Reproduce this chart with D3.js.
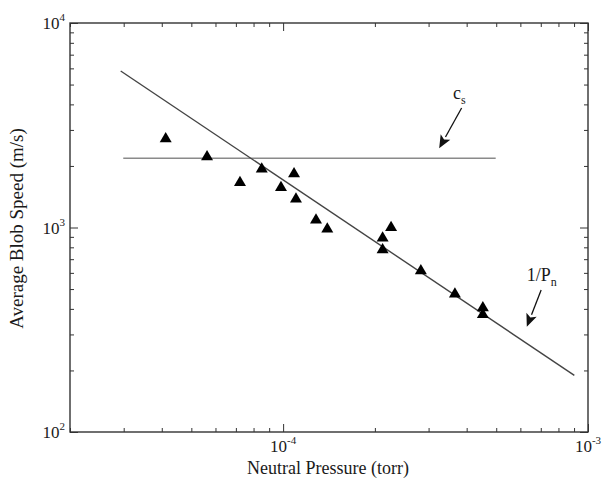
<!DOCTYPE html>
<html>
<head>
<meta charset="utf-8">
<script src="https://cdn.jsdelivr.net/npm/d3@7"></script>
<style>
  html, body { margin: 0; padding: 0; background: #fff; }
  svg { display: block; }
  text { font-family: "Liberation Serif", "DejaVu Serif", serif; fill: #1a1a1a; }
</style>
</head>
<body>
<div id="chart"></div>
<script>
// ---- data ----
const pressure = [4.12e-5, 5.63e-5, 7.22e-5, 8.51e-5, 9.84e-5, 1.086e-4, 1.102e-4, 1.282e-4, 1.396e-4,
                  2.26e-4, 2.12e-4, 2.12e-4, 2.83e-4, 3.66e-4, 4.52e-4, 4.52e-4];
const speed    = [2740, 2238, 1675, 1948, 1583, 1847, 1390, 1097, 991,
                  1009, 896, 785, 620, 477, 408, 378];
// 1/Pn fit line (v = K / P)
const fitK = 0.1708;
const fitRange = [2.933e-5, 9.02e-4];
// sound speed line
const csValue = 2180;
const csRange = [2.99e-5, 4.98e-4];
// ticks
const xMajor = [1e-4, 1e-3];
const xMajorExp = ["-4", "-3"];
const xMinor = [2e-5,3e-5,4e-5,5e-5,6e-5,7e-5,8e-5,9e-5,2e-4,3e-4,4e-4,5e-4,6e-4,7e-4,8e-4,9e-4];
const yMajor = [1e2, 1e3, 1e4];
const yMajorExp = ["2", "3", "4"];
const yMinor = [200,300,400,500,600,700,800,900,2000,3000,4000,5000,6000,7000,8000,9000];
const xDomain = [2e-5, 1e-3];
const yDomain = [1e2, 1e4];
// annotations (in data units): label anchor, arrow tail, arrow tip
const annCs  = { label: "c", sub: "s", at: [3.61e-4, 4250], from: [3.85e-4, 3841], to: [3.25e-4, 2439] };
const annFit = { label: "1/P", sub: "n", at: [6.30e-4, 548], from: [7.02e-4, 495], to: [6.30e-4, 327] };

// ---- layout ----
const W = 608, H = 490;
const m = { left: 70, top: 23, right: 20, bottom: 58 };
const iw = W - m.left - m.right, ih = H - m.top - m.bottom;

const svg = d3.select("#chart").append("svg").attr("width", W).attr("height", H);
svg.append("rect").attr("width", W).attr("height", H).attr("fill", "#fff");
const g = svg.append("g").attr("transform", `translate(${m.left},${m.top})`);

const x = d3.scaleLog().domain(xDomain).range([0, iw]);
const y = d3.scaleLog().domain(yDomain).range([ih, 0]);

const axisColor = "#333";
function styleAxis(sel) {
  sel.select(".domain").remove();
  sel.selectAll(".tick line").attr("stroke", axisColor).attr("stroke-width", 1);
  sel.selectAll(".tick text").remove();
}
// inward ticks on all four sides
g.append("g").attr("transform", `translate(0,${ih})`).call(d3.axisBottom(x).tickValues(xMajor).tickSize(-8)).call(styleAxis);
g.append("g").attr("transform", `translate(0,${ih})`).call(d3.axisBottom(x).tickValues(xMinor).tickSize(-4)).call(styleAxis);
g.append("g").call(d3.axisTop(x).tickValues(xMajor).tickSize(-8)).call(styleAxis);
g.append("g").call(d3.axisTop(x).tickValues(xMinor).tickSize(-4)).call(styleAxis);
g.append("g").call(d3.axisLeft(y).tickValues(yMajor).tickSize(-8)).call(styleAxis);
g.append("g").call(d3.axisLeft(y).tickValues(yMinor).tickSize(-4)).call(styleAxis);
g.append("g").attr("transform", `translate(${iw},0)`).call(d3.axisRight(y).tickValues(yMajor).tickSize(-8)).call(styleAxis);
g.append("g").attr("transform", `translate(${iw},0)`).call(d3.axisRight(y).tickValues(yMinor).tickSize(-4)).call(styleAxis);

// frame
g.append("rect").attr("width", iw).attr("height", ih).attr("fill", "none")
  .attr("stroke", axisColor).attr("stroke-width", 1.4);

// tick labels
xMajor.forEach((v, i) => {
  const t = g.append("text").attr("x", x(v)).attr("y", ih + 20).attr("text-anchor", "middle")
    .attr("font-size", 17);
  t.append("tspan").text("10");
  t.append("tspan").attr("font-size", 11).attr("dy", -8).text(xMajorExp[i]);
});
yMajor.forEach((v, i) => {
  const t = g.append("text").attr("x", -5).attr("y", y(v) + 6).attr("text-anchor", "end")
    .attr("font-size", 17);
  t.append("tspan").text("10");
  t.append("tspan").attr("font-size", 11).attr("dy", -8).text(yMajorExp[i]);
});

// axis titles
g.append("text").attr("x", iw / 2 - 1).attr("y", ih + 42).attr("text-anchor", "middle")
  .attr("font-size", 18).text("Neutral Pressure (torr)");
g.append("text").attr("transform", `translate(${-47},${ih / 2 + 1}) rotate(-90)`)
  .attr("text-anchor", "middle").attr("font-size", 19).text("Average Blob Speed (m/s)");

// lines
g.append("line")
  .attr("x1", x(csRange[0])).attr("x2", x(csRange[1]))
  .attr("y1", y(csValue)).attr("y2", y(csValue))
  .attr("stroke", "#8a8a8a").attr("stroke-width", 1.5);
g.append("line")
  .attr("x1", x(fitRange[0])).attr("y1", y(fitK / fitRange[0]))
  .attr("x2", x(fitRange[1])).attr("y2", y(fitK / fitRange[1]))
  .attr("stroke", "#444").attr("stroke-width", 1.4);

// markers (filled triangles)
const tri = "M0,-6 L6,4.2 L-6,4.2 Z";
g.selectAll("path.pt").data(pressure.map((p, i) => [p, speed[i]])).join("path")
  .attr("class", "pt").attr("d", tri)
  .attr("transform", d => `translate(${x(d[0])},${y(d[1])})`)
  .attr("fill", "#000");

// annotations
function arrow(a) {
  const x0 = x(a.from[0]), y0 = y(a.from[1]), x1 = x(a.to[0]), y1 = y(a.to[1]);
  const ang = Math.atan2(y1 - y0, x1 - x0);
  const L = 13, Wd = 5.5;
  const bx = x1 - L * Math.cos(ang), by = y1 - L * Math.sin(ang);
  g.append("line").attr("x1", x0).attr("y1", y0).attr("x2", bx).attr("y2", by)
    .attr("stroke", "#111").attr("stroke-width", 1.3);
  const px = -Math.sin(ang) * Wd, py = Math.cos(ang) * Wd;
  g.append("path").attr("d", `M${x1},${y1} L${bx + px},${by + py} L${bx + 3 * Math.cos(ang)},${by + 3 * Math.sin(ang)} L${bx - px},${by - py} Z`)
    .attr("fill", "#111");
  const t = g.append("text").attr("x", x(a.at[0])).attr("y", y(a.at[1])).attr("font-size", 18);
  t.append("tspan").text(a.label);
  t.append("tspan").attr("font-size", 12).attr("dy", 5).text(a.sub);
}
arrow(annCs);
arrow(annFit);
</script>
</body>
</html>
